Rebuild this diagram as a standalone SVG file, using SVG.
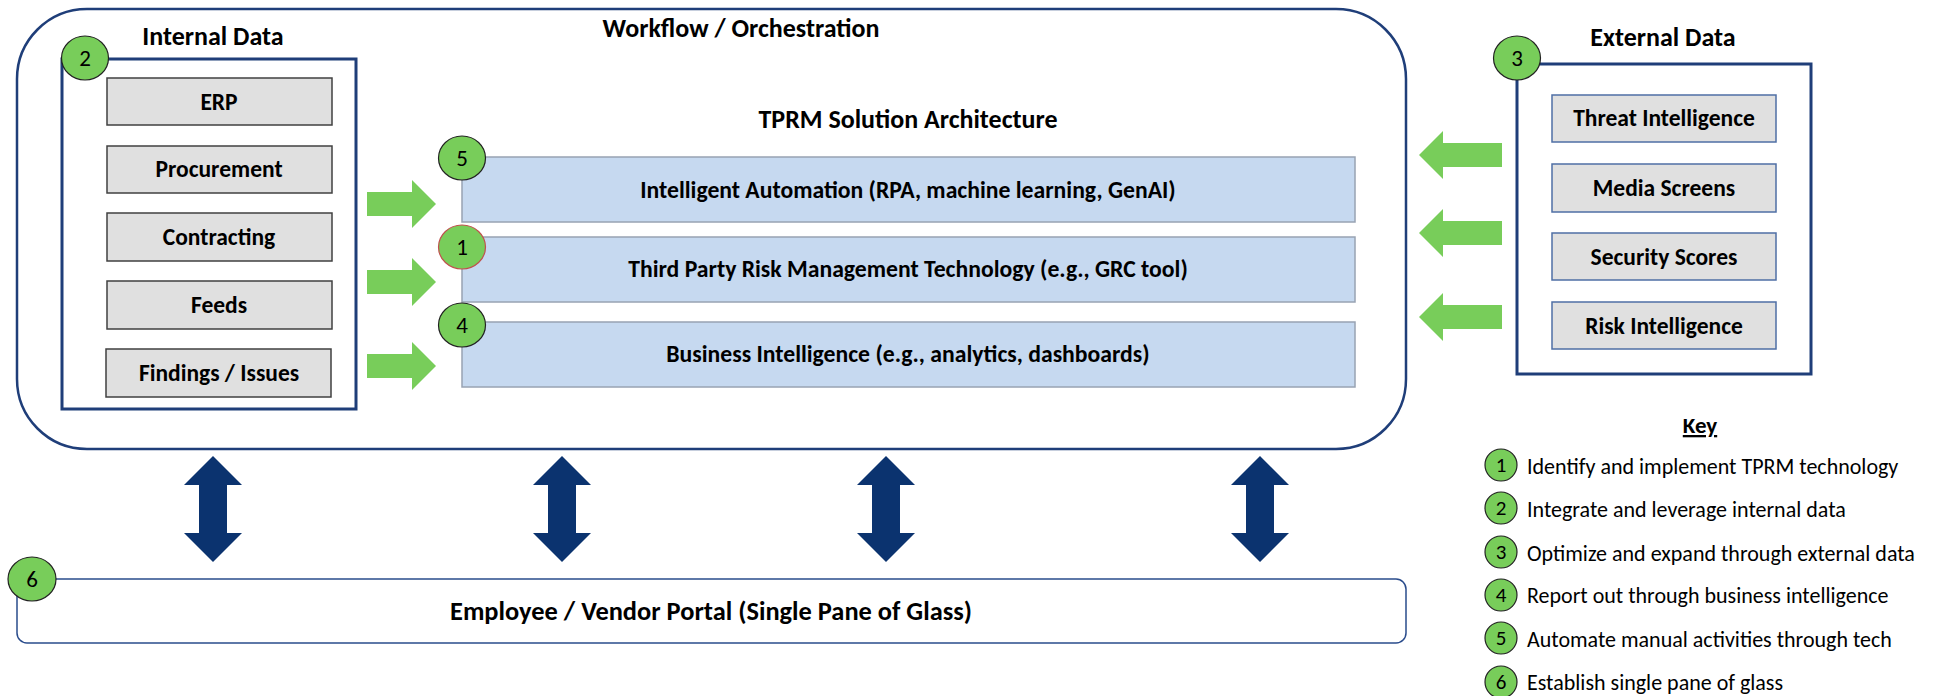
<svg xmlns="http://www.w3.org/2000/svg" width="1934" height="696" viewBox="0 0 1934 696">
  <style>
    text { font-family: Carlito, Calibri, Lato, "Liberation Sans", sans-serif; fill: #000; }
    .title { font-size: 26px; font-weight: 700; text-anchor: middle; }
    .item { font-size: 23.5px; font-weight: 700; text-anchor: middle; }
    .bar-label { font-size: 23.7px; font-weight: 700; text-anchor: middle; }
    .num { font-size: 23px; text-anchor: middle; }
    .key-num { font-size: 21px; text-anchor: middle; }
    .key-text { font-size: 22px; }
    .frame { fill: #fff; stroke: #1F3E79; stroke-width: 3; }
    .grey-int { fill: #E0E0E0; stroke: #404040; stroke-width: 1.5; }
    .grey-ext { fill: #E0E0E0; stroke: #4F6FA5; stroke-width: 1.5; }
    .bar { fill: #C6D9F0; stroke: #98A3B3; stroke-width: 1.5; }
    .badge { fill: #78CD5A; stroke: #222; stroke-width: 1.2; }
    .badge-red { fill: #78CD5A; stroke: #C0504D; stroke-width: 1.2; }
    .flow { fill: #78CD5A; }
    .link { fill: #0B336F; }
  </style>
  <defs>
    <!-- block arrow pointing right, tip at origin -->
    <path id="arrow-right" d="M -69,-12 L -24,-12 L -24,-24 L 0,0 L -24,24 L -24,12 L -69,12 Z"/>
    <!-- block arrow pointing left, tip at origin -->
    <path id="arrow-left" d="M 83,-12 L 24,-12 L 24,-24 L 0,0 L 24,24 L 24,12 L 83,12 Z"/>
    <!-- vertical double-headed arrow centred on x=0 -->
    <path id="arrow-updown" d="M 0,456 L 29,485 L 14,485 L 14,533 L 29,533 L 0,562 L -29,533 L -14,533 L -14,485 L -29,485 Z"/>
  </defs>

  <rect width="1934" height="696" fill="#fff"/>

  <!-- Workflow / Orchestration container -->
  <g id="workflow">
    <rect x="17" y="9" width="1389" height="440" rx="70" ry="70" fill="#fff" stroke="#1F3E79" stroke-width="2.5"/>
    <text class="title" x="741" y="37">Workflow / Orchestration</text>
    <text class="title" x="908" y="128">TPRM Solution Architecture</text>
  </g>

  <!-- Internal data sources -->
  <g id="internal-data">
    <rect class="frame" x="62" y="59" width="294" height="350"/>
    <text class="title" x="213" y="45">Internal Data</text>
    <rect class="grey-int" x="107" y="78" width="225" height="47"/>
    <text class="item" x="219" y="110">ERP</text>
    <rect class="grey-int" x="107" y="146" width="225" height="47"/>
    <text class="item" x="219" y="177">Procurement</text>
    <rect class="grey-int" x="107" y="213" width="225" height="48"/>
    <text class="item" x="219" y="245">Contracting</text>
    <rect class="grey-int" x="107" y="281" width="225" height="48"/>
    <text class="item" x="219" y="313">Feeds</text>
    <rect class="grey-int" x="106" y="349" width="225" height="48"/>
    <text class="item" x="219" y="381">Findings / Issues</text>
    <ellipse class="badge" cx="85" cy="58" rx="23.5" ry="22"/>
    <text class="num" x="85" y="66">2</text>
  </g>

  <!-- TPRM solution layers -->
  <g id="layer-automation">
    <rect class="bar" x="462" y="157" width="893" height="65"/>
    <text class="bar-label" x="908" y="198">Intelligent Automation (RPA, machine learning, GenAI)</text>
    <ellipse class="badge" cx="462" cy="158" rx="23.5" ry="22"/>
    <text class="num" x="462" y="166">5</text>
  </g>
  <g id="layer-tprm">
    <rect class="bar" x="462" y="237" width="893" height="65"/>
    <text class="bar-label" x="908" y="277">Third Party Risk Management Technology (e.g., GRC tool)</text>
    <ellipse class="badge-red" cx="462" cy="247" rx="23.5" ry="22"/>
    <text class="num" x="462" y="255">1</text>
  </g>
  <g id="layer-bi">
    <rect class="bar" x="462" y="322" width="893" height="65"/>
    <text class="bar-label" x="908" y="362">Business Intelligence (e.g., analytics, dashboards)</text>
    <ellipse class="badge" cx="462" cy="325" rx="23.5" ry="22"/>
    <text class="num" x="462" y="333">4</text>
  </g>

  <!-- External data sources -->
  <g id="external-data">
    <rect class="frame" x="1517" y="64" width="294" height="310"/>
    <text class="title" x="1663" y="46">External Data</text>
    <rect class="grey-ext" x="1552" y="95" width="224" height="47"/>
    <text class="item" x="1664" y="126">Threat Intelligence</text>
    <rect class="grey-ext" x="1552" y="164" width="224" height="48"/>
    <text class="item" x="1664" y="196">Media Screens</text>
    <rect class="grey-ext" x="1552" y="233" width="224" height="47"/>
    <text class="item" x="1664" y="265">Security Scores</text>
    <rect class="grey-ext" x="1552" y="302" width="224" height="47"/>
    <text class="item" x="1664" y="334">Risk Intelligence</text>
    <ellipse class="badge" cx="1517" cy="58" rx="23.5" ry="22"/>
    <text class="num" x="1517" y="66">3</text>
  </g>

  <!-- Employee / vendor portal -->
  <g id="portal">
    <rect x="17" y="579" width="1389" height="64" rx="10" ry="10" fill="#fff" stroke="#2A4C8C" stroke-width="1.5"/>
    <text x="711" y="620" font-size="27" font-weight="700" text-anchor="middle" textLength="522" lengthAdjust="spacingAndGlyphs">Employee / Vendor Portal (Single Pane of Glass)</text>
    <ellipse class="badge" cx="32" cy="579" rx="24" ry="22"/>
    <text class="num" x="32" y="587">6</text>
  </g>

  <!-- Connectors: data feeds and portal links -->
  <g id="connectors">
    <use href="#arrow-right" class="flow" x="436" y="204"/>
    <use href="#arrow-right" class="flow" x="436" y="282"/>
    <use href="#arrow-right" class="flow" x="436" y="366"/>
    <use href="#arrow-left" class="flow" x="1419" y="155"/>
    <use href="#arrow-left" class="flow" x="1419" y="233"/>
    <use href="#arrow-left" class="flow" x="1419" y="317"/>
    <use href="#arrow-updown" class="link" x="213" y="0"/>
    <use href="#arrow-updown" class="link" x="562" y="0"/>
    <use href="#arrow-updown" class="link" x="886" y="0"/>
    <use href="#arrow-updown" class="link" x="1260" y="0"/>
  </g>

  <!-- Key -->
  <g id="key">
    <text x="1700" y="433" font-size="23" font-weight="700" text-anchor="middle" text-decoration="underline">Key</text>
    <g id="key-1">
      <circle class="badge" cx="1501" cy="465" r="16"/>
      <text class="key-num" x="1501" y="472">1</text>
      <text class="key-text" x="1527" y="474">Identify and implement TPRM technology</text>
    </g>
    <g id="key-2">
      <circle class="badge" cx="1501" cy="508" r="16"/>
      <text class="key-num" x="1501" y="515">2</text>
      <text class="key-text" x="1527" y="517">Integrate and leverage internal data</text>
    </g>
    <g id="key-3">
      <circle class="badge" cx="1501" cy="552" r="16"/>
      <text class="key-num" x="1501" y="559">3</text>
      <text class="key-text" x="1527" y="561">Optimize and expand through external data</text>
    </g>
    <g id="key-4">
      <circle class="badge" cx="1501" cy="595" r="16"/>
      <text class="key-num" x="1501" y="602">4</text>
      <text class="key-text" x="1527" y="603">Report out through business intelligence</text>
    </g>
    <g id="key-5">
      <circle class="badge" cx="1501" cy="638" r="16"/>
      <text class="key-num" x="1501" y="645">5</text>
      <text class="key-text" x="1527" y="647">Automate manual activities through tech</text>
    </g>
    <g id="key-6">
      <circle class="badge" cx="1501" cy="682" r="16"/>
      <text class="key-num" x="1501" y="689">6</text>
      <text class="key-text" x="1527" y="690">Establish single pane of glass</text>
    </g>
  </g>
</svg>
